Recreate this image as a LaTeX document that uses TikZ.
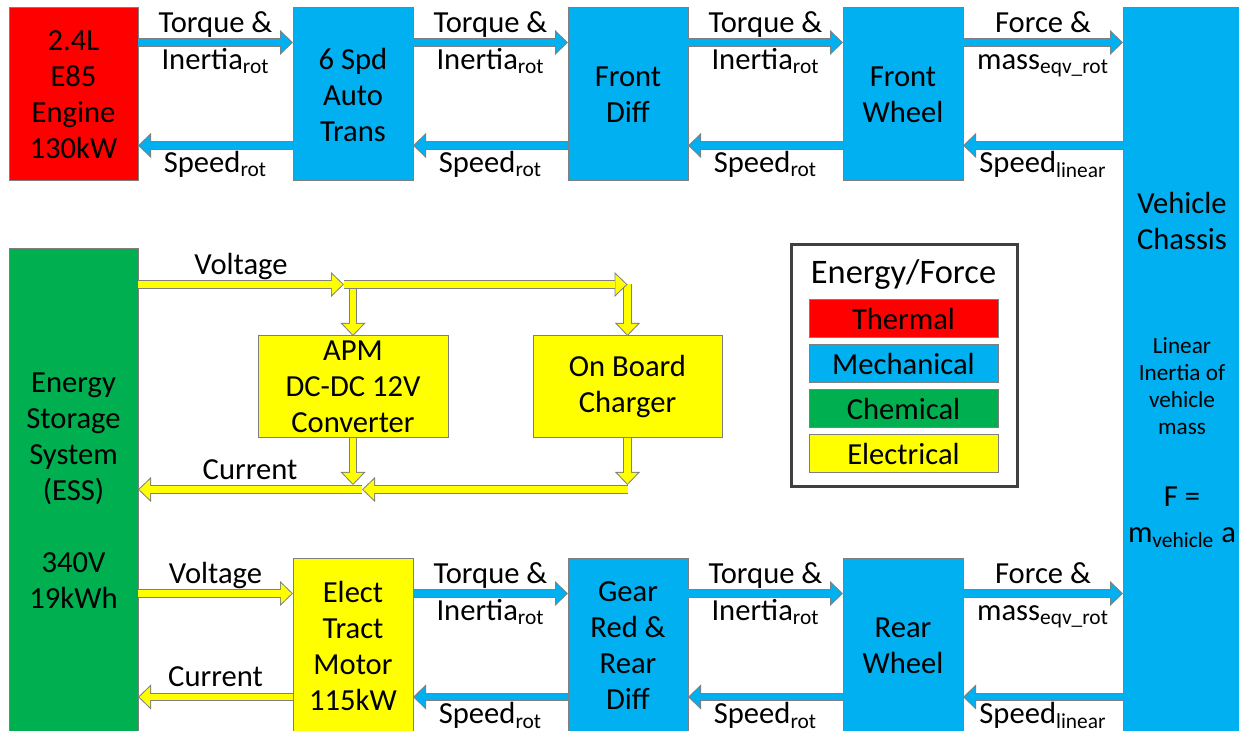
\documentclass[tikz,border=0pt]{standalone}
\usepackage{fontspec}
\setmainfont{Carlito}
\usetikzlibrary{arrows.meta,positioning,calc}

\definecolor{thermred}{HTML}{FF0000}
\definecolor{mechblue}{HTML}{00B0F0}
\definecolor{chemgreen}{HTML}{00B050}
\definecolor{elecyellow}{HTML}{FFFF00}
\definecolor{edgegray}{HTML}{7F7F7F}
\definecolor{framegray}{HTML}{404040}
\newcommand{\chsmall}{\fontsize{11.6}{13.5}\selectfont}

\begin{document}
\begin{tikzpicture}[
  x=0.5pt, y=-0.5pt,
  node distance=77.5pt,
  font=\fontsize{15.3}{18}\selectfont,
  blk/.style = {draw=edgegray, line width=0.5pt, align=center,
    inner sep=0pt, outer sep=0pt, minimum width=60pt, minimum height=86.5pt},
  thermbox/.style = {blk, fill=thermred},
  mechbox/.style = {blk, fill=mechblue},
  chembox/.style = {blk, fill=chemgreen},
  elecbox/.style = {blk, fill=elecyellow},
  keybox/.style = {blk, minimum width=94.5pt, minimum height=19pt},
  flow/.style = {line width=3.2pt, draw=#1,
    -{Triangle[length=5.3pt, width=10.2pt, line width=0pt]}, shorten >=0.72pt,
    preaction={draw=edgegray, line width=4.2pt,
      -{Triangle[length=6.5pt, width=12.5pt, line width=0pt]}, shorten >=0pt}},
  mflow/.style = {flow=mechblue},
  eflow/.style = {flow=elecyellow},
  lblup/.style = {midway, anchor=base, yshift=5pt},
  lbldn/.style = {midway, anchor=base, yshift=-13.5pt},
]
\useasboundingbox (0,0) rectangle (1239,731);

% front driveline
\node[thermbox, minimum width=64.5pt] (eng) at (73.5,94.5) {2.4L\\E85\\Engine\\130kW};
\node[mechbox, right=of eng] (trans) {6 Spd\\Auto\\Trans};
\node[mechbox, right=of trans] (fdiff) {Front\\Diff};
\node[mechbox, right=of fdiff] (fwhl) {Front\\Wheel};

% vehicle
\node[mechbox, minimum width=59pt, minimum height=362pt] (chas) at (1182,370)
  {Vehicle\\Chassis\\[34pt]{\chsmall Linear}\\[-4.5pt]{\chsmall Inertia of}\\[-4.5pt]{\chsmall vehicle}\\[-4.5pt]{\chsmall mass}\\[18pt]F =\\m\textsubscript{vehicle} a};

% rear driveline
\node[chembox, minimum width=64.5pt, minimum height=241.5pt] (ess) at (73.5,490.5)
  {Energy\\Storage\\System\\(ESS)\\[18pt]340V\\19kWh};
\node[elecbox] (motor) at (353,645.5) {Elect\\Tract\\Motor\\115kW};
\node[mechbox, right=of motor] (gear) {Gear\\Red \&\\Rear\\Diff};
\node[mechbox, right=of gear] (rwhl) {Rear\\Wheel};

% accessories
\node[elecbox, minimum width=95pt, minimum height=51pt] (apm) at (353,387) {APM\\DC-DC 12V\\Converter};
\node[elecbox, minimum width=94.5pt, minimum height=51pt, right=42.5pt of apm] (obc) {On Board\\Charger};

% legend
\node[draw=framegray, line width=1.5pt, minimum width=113pt, minimum height=121pt, inner sep=0pt] (leg) at (904,366) {};
\node[anchor=base, font=\fontsize{17.2}{20}\selectfont] (legttl) at (903.5,283.5) {Energy/Force};
\node[keybox, fill=thermred] (kthm) at (903.5,319) {Thermal};
\node[keybox, fill=mechblue, below=3.5pt of kthm] (kmec) {Mechanical};
\node[keybox, fill=chemgreen, below=3.5pt of kmec] (kchm) {Chemical};
\node[keybox, fill=elecyellow, below=3.5pt of kchm] (kelc) {Electrical};

% flow levels
\coordinate (tq1) at (0,42.5);
\coordinate (sp1) at (0,145.5);
\coordinate (tq2) at (0,593.5);
\coordinate (sp2) at (0,697);
\coordinate (vt) at (0,284.5);
\coordinate (cu) at (0,489.5);
\coordinate (vsplit) at ($(apm.north |- vt)+(-9,0)$);
\coordinate (csplit) at ($(apm.south |- cu)+(9,0)$);
\coordinate (capm) at ($(apm.south |- cu)+(0,-4.5)$);
\coordinate (cobc) at ($(obc.south |- cu)+(0,-4.5)$);

% front flows
\draw[mflow] (eng.east |- tq1) -- node[lblup]{Torque \&} node[lbldn]{Inertia\textsubscript{rot}} (trans.west |- tq1);
\draw[mflow] (trans.west |- sp1) -- node[lbldn]{Speed\textsubscript{rot}} (eng.east |- sp1);
\draw[mflow] (trans.east |- tq1) -- node[lblup]{Torque \&} node[lbldn]{Inertia\textsubscript{rot}} (fdiff.west |- tq1);
\draw[mflow] (fdiff.west |- sp1) -- node[lbldn]{Speed\textsubscript{rot}} (trans.east |- sp1);
\draw[mflow] (fdiff.east |- tq1) -- node[lblup]{Torque \&} node[lbldn]{Inertia\textsubscript{rot}} (fwhl.west |- tq1);
\draw[mflow] (fwhl.west |- sp1) -- node[lbldn]{Speed\textsubscript{rot}} (fdiff.east |- sp1);
\draw[mflow] (fwhl.east |- tq1) -- node[lblup]{Force \&} node[lbldn]{mass\textsubscript{eqv\_rot}} (chas.west |- tq1);
\draw[mflow] (chas.west |- sp1) -- node[lbldn]{Speed\textsubscript{linear}} (fwhl.east |- sp1);

% accessory flows
\draw[eflow] (apm.north |- vt) -- (apm.north);
\draw[eflow] (obc.north |- vt) -- (obc.north);
\draw[eflow] (ess.east |- vt) -- node[lblup]{Voltage} (vsplit);
\draw[eflow] (vsplit) -- (obc.north |- vt);
\draw[eflow] (apm.south) -- (capm);
\draw[eflow] (obc.south) -- (cobc);
\draw[eflow] (obc.south |- cu) -- (csplit);
\draw[eflow] (csplit) -- node[lblup]{Current} (ess.east |- cu);

% rear flows
\draw[eflow] (ess.east |- tq2) -- node[lblup]{Voltage} (motor.west |- tq2);
\draw[eflow] (motor.west |- sp2) -- node[lblup]{Current} (ess.east |- sp2);
\draw[mflow] (motor.east |- tq2) -- node[lblup]{Torque \&} node[lbldn]{Inertia\textsubscript{rot}} (gear.west |- tq2);
\draw[mflow] (gear.west |- sp2) -- node[lbldn]{Speed\textsubscript{rot}} (motor.east |- sp2);
\draw[mflow] (gear.east |- tq2) -- node[lblup]{Torque \&} node[lbldn]{Inertia\textsubscript{rot}} (rwhl.west |- tq2);
\draw[mflow] (rwhl.west |- sp2) -- node[lbldn]{Speed\textsubscript{rot}} (gear.east |- sp2);
\draw[mflow] (rwhl.east |- tq2) -- node[lblup]{Force \&} node[lbldn]{mass\textsubscript{eqv\_rot}} (chas.west |- tq2);
\draw[mflow] (chas.west |- sp2) -- node[lbldn]{Speed\textsubscript{linear}} (rwhl.east |- sp2);
\end{tikzpicture}
\end{document}
